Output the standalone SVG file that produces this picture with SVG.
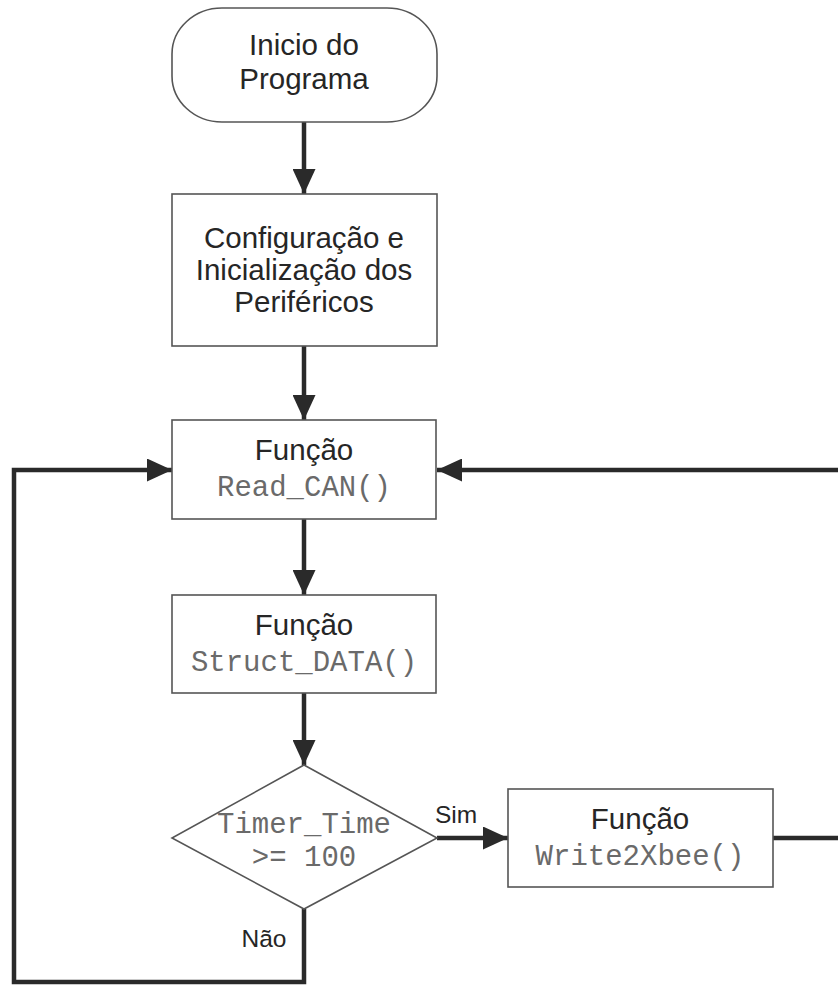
<svg xmlns="http://www.w3.org/2000/svg" width="838" height="985" viewBox="0 0 838 985">
  <defs>
    <marker id="arrow" viewBox="0 0 25 23" markerWidth="25" markerHeight="23" refX="25" refY="11.5" markerUnits="userSpaceOnUse" orient="auto">
      <path d="M0,0 L25,11.5 L0,23 Z" fill="#2a2a2a"/>
    </marker>
    <style>
      .shape { fill: #ffffff; stroke: #555555; stroke-width: 1.6; }
      .sans { font-family: "Liberation Sans", Arial, sans-serif; font-size: 29.5px; fill: #262626; text-anchor: middle; }
      .mono { font-family: "Liberation Mono", "Courier New", monospace; font-size: 29px; fill: #6a6a6a; text-anchor: middle; }
      .lbl { font-family: "Liberation Sans", Arial, sans-serif; font-size: 24.5px; fill: #262626; text-anchor: middle; }
      .wire { fill: none; stroke: #2a2a2a; stroke-width: 4.5; }
    </style>
  </defs>
  <rect width="838" height="985" fill="#ffffff"/>

  <!-- connectors -->
  <g id="connectors">
    <path class="wire" d="M304,122 L304,194" marker-end="url(#arrow)"/>
    <path class="wire" d="M304,346 L304,420" marker-end="url(#arrow)"/>
    <path class="wire" d="M304,519 L304,595" marker-end="url(#arrow)"/>
    <path class="wire" d="M304,693 L304,765" marker-end="url(#arrow)"/>
    <path class="wire" d="M437,838 L508,838" marker-end="url(#arrow)"/>
    <!-- "Não" branch loops back to Read_CAN -->
    <path class="wire" d="M304,909 L304,982 L14,982 L14,470 L172,470" marker-end="url(#arrow)"/>
    <!-- after Write2Xbee, loops back to Read_CAN -->
    <path class="wire" d="M773,838 L850,838 L850,470 L437,470" marker-end="url(#arrow)"/>
    <text class="lbl" x="456" y="823">Sim</text>
    <text class="lbl" x="264" y="947">Não</text>
  </g>

  <g id="start">
    <rect class="shape" x="172" y="8" width="265" height="114" rx="50" ry="46"/>
    <text class="sans" x="304" y="55">Inicio do</text>
    <text class="sans" x="304" y="89">Programa</text>
  </g>

  <g id="config">
    <rect class="shape" x="172" y="194" width="265" height="152"/>
    <text class="sans" x="304" y="248">Configuração e</text>
    <text class="sans" x="304" y="280">Inicialização dos</text>
    <text class="sans" x="304" y="312">Periféricos</text>
  </g>

  <g id="read-can">
    <rect class="shape" x="172" y="420" width="264" height="99"/>
    <text class="sans" x="304" y="460">Função</text>
    <text class="mono" x="304" y="496">Read_CAN()</text>
  </g>

  <g id="struct-data">
    <rect class="shape" x="172" y="595" width="264" height="98"/>
    <text class="sans" x="304" y="635">Função</text>
    <text class="mono" x="304" y="671">Struct_DATA()</text>
  </g>

  <g id="timer-check">
    <polygon class="shape" points="304,765 437,838 304,909 172,838"/>
    <text class="mono" x="304" y="833">Timer_Time</text>
    <text class="mono" x="304" y="866">&gt;= 100</text>
  </g>

  <g id="write-xbee">
    <rect class="shape" x="508" y="789" width="265" height="98"/>
    <text class="sans" x="640" y="829">Função</text>
    <text class="mono" x="640" y="865">Write2Xbee()</text>
  </g>
</svg>
